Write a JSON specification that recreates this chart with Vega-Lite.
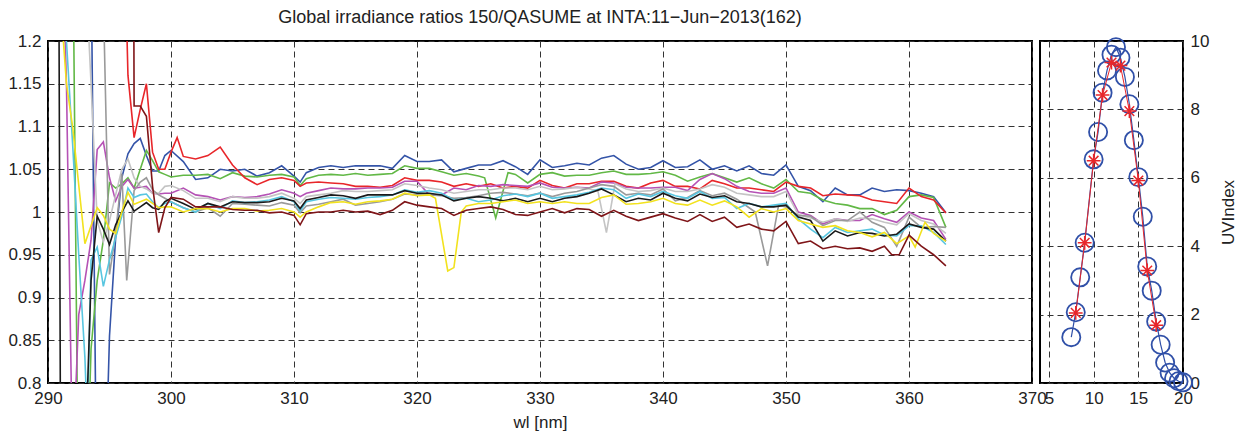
{
"$schema":"https://vega.github.io/schema/vega-lite/v6.json",
"padding":{"left":6,"top":8,"right":5,"bottom":5},
"background":"white",
"config":{
 "font":"Liberation Sans",
 "view":{"stroke":"#000","strokeWidth":2},
 "axis":{"labelFont":"Liberation Sans","labelFontSize":17,"labelColor":"#222","titleFont":"Liberation Sans","titleFontSize":17,"titleFontWeight":"normal","titleColor":"#222","domain":false,"ticks":false,"grid":true,"gridColor":"#333","gridDash":[6,4],"gridWidth":1,"gridOpacity":1,"labelPadding":7,"labelFlush":false},
 "title":{"font":"Liberation Sans","fontSize":18,"fontWeight":"normal","color":"#222"}
},
"datasets":{
"ratio":[
{"s":"b","w":290,"v":1.4},{"s":"b","w":293.5,"v":1.3},{"s":"b","w":294,"v":0.6},{"s":"b","w":294.5,"v":0.6},{"s":"b","w":295,"v":0.855},{"s":"b","w":295.5,"v":0.97},{"s":"b","w":296,"v":1.04},{"s":"b","w":296.5,"v":1.068},{"s":"b","w":297,"v":1.08},{"s":"b","w":297.5,"v":1.086},{"s":"b","w":298,"v":1.066},{"s":"b","w":298.5,"v":1.048},{"s":"b","w":299,"v":1.048},{"s":"b","w":299.5,"v":1.066},{"s":"b","w":300,"v":1.072},{"s":"b","w":301,"v":1.059},{"s":"b","w":302,"v":1.038},{"s":"b","w":303,"v":1.04},{"s":"b","w":304,"v":1.05},{"s":"b","w":305,"v":1.048},{"s":"b","w":306,"v":1.05},{"s":"b","w":307,"v":1.042},{"s":"b","w":308,"v":1.046},{"s":"b","w":309,"v":1.054},{"s":"b","w":310,"v":1.042},{"s":"b","w":310.5,"v":1.035},{"s":"b","w":311,"v":1.046},{"s":"b","w":312,"v":1.052},{"s":"b","w":313,"v":1.054},{"s":"b","w":314,"v":1.052},{"s":"b","w":315,"v":1.054},{"s":"b","w":316,"v":1.054},{"s":"b","w":317,"v":1.054},{"s":"b","w":318,"v":1.051},{"s":"b","w":319,"v":1.066},{"s":"b","w":320,"v":1.059},{"s":"b","w":321,"v":1.059},{"s":"b","w":322,"v":1.061},{"s":"b","w":323,"v":1.047},{"s":"b","w":324,"v":1.051},{"s":"b","w":325,"v":1.055},{"s":"b","w":326,"v":1.055},{"s":"b","w":327,"v":1.06},{"s":"b","w":328,"v":1.053},{"s":"b","w":329,"v":1.044},{"s":"b","w":330,"v":1.061},{"s":"b","w":331,"v":1.052},{"s":"b","w":332,"v":1.054},{"s":"b","w":333,"v":1.057},{"s":"b","w":334,"v":1.055},{"s":"b","w":335,"v":1.063},{"s":"b","w":336,"v":1.066},{"s":"b","w":337,"v":1.056},{"s":"b","w":338,"v":1.05},{"s":"b","w":339,"v":1.052},{"s":"b","w":340,"v":1.06},{"s":"b","w":341,"v":1.052},{"s":"b","w":342,"v":1.053},{"s":"b","w":343,"v":1.061},{"s":"b","w":344,"v":1.05},{"s":"b","w":345,"v":1.054},{"s":"b","w":346,"v":1.048},{"s":"b","w":347,"v":1.054},{"s":"b","w":348,"v":1.045},{"s":"b","w":349,"v":1.043},{"s":"b","w":350,"v":1.055},{"s":"b","w":351,"v":1.03},{"s":"b","w":352,"v":1.025},{"s":"b","w":353,"v":1.012},{"s":"b","w":354,"v":1.028},{"s":"b","w":355,"v":1.02},{"s":"b","w":356,"v":1.02},{"s":"b","w":357,"v":1.028},{"s":"b","w":358,"v":1.024},{"s":"b","w":359,"v":1.026},{"s":"b","w":360,"v":1.025},{"s":"b","w":361,"v":1.022},{"s":"b","w":362,"v":1.018},{"s":"b","w":363,"v":0.999},
{"s":"g","w":290,"v":1.5},{"s":"g","w":292,"v":1.35},{"s":"g","w":292.5,"v":0.6},{"s":"g","w":293,"v":0.6},{"s":"g","w":293.5,"v":0.84},{"s":"g","w":294,"v":0.92},{"s":"g","w":294.5,"v":0.967},{"s":"g","w":295,"v":1.034},{"s":"g","w":295.5,"v":1.028},{"s":"g","w":296,"v":1.033},{"s":"g","w":296.5,"v":1.04},{"s":"g","w":297,"v":1.028},{"s":"g","w":297.5,"v":1.05},{"s":"g","w":298,"v":1.072},{"s":"g","w":298.5,"v":1.06},{"s":"g","w":299,"v":1.047},{"s":"g","w":299.5,"v":1.044},{"s":"g","w":300,"v":1.041},{"s":"g","w":301,"v":1.043},{"s":"g","w":302,"v":1.043},{"s":"g","w":303,"v":1.044},{"s":"g","w":304,"v":1.039},{"s":"g","w":305,"v":1.046},{"s":"g","w":306,"v":1.042},{"s":"g","w":307,"v":1.041},{"s":"g","w":308,"v":1.043},{"s":"g","w":309,"v":1.044},{"s":"g","w":310,"v":1.041},{"s":"g","w":310.5,"v":1.031},{"s":"g","w":311,"v":1.039},{"s":"g","w":312,"v":1.043},{"s":"g","w":313,"v":1.044},{"s":"g","w":314,"v":1.043},{"s":"g","w":315,"v":1.045},{"s":"g","w":316,"v":1.043},{"s":"g","w":317,"v":1.044},{"s":"g","w":318,"v":1.045},{"s":"g","w":319,"v":1.054},{"s":"g","w":320,"v":1.051},{"s":"g","w":321,"v":1.051},{"s":"g","w":322,"v":1.047},{"s":"g","w":323,"v":1.043},{"s":"g","w":324,"v":1.045},{"s":"g","w":325,"v":1.042},{"s":"g","w":325.5,"v":1.04},{"s":"g","w":326.4,"v":0.993},{"s":"g","w":327.4,"v":1.046},{"s":"g","w":328,"v":1.044},{"s":"g","w":329,"v":1.034},{"s":"g","w":330,"v":1.044},{"s":"g","w":331,"v":1.046},{"s":"g","w":332,"v":1.042},{"s":"g","w":333,"v":1.043},{"s":"g","w":334,"v":1.043},{"s":"g","w":335,"v":1.046},{"s":"g","w":336,"v":1.048},{"s":"g","w":337,"v":1.044},{"s":"g","w":338,"v":1.044},{"s":"g","w":339,"v":1.045},{"s":"g","w":340,"v":1.047},{"s":"g","w":341,"v":1.043},{"s":"g","w":342,"v":1.036},{"s":"g","w":343,"v":1.041},{"s":"g","w":344,"v":1.045},{"s":"g","w":345,"v":1.04},{"s":"g","w":346,"v":1.035},{"s":"g","w":347,"v":1.04},{"s":"g","w":348,"v":1.033},{"s":"g","w":349,"v":1.028},{"s":"g","w":350,"v":1.038},{"s":"g","w":351,"v":1.024},{"s":"g","w":352,"v":1.022},{"s":"g","w":353,"v":1.014},{"s":"g","w":354,"v":1.01},{"s":"g","w":355,"v":1.008},{"s":"g","w":356,"v":1.004},{"s":"g","w":357,"v":1.004},{"s":"g","w":358,"v":0.997},{"s":"g","w":359,"v":1.002},{"s":"g","w":360,"v":1.018},{"s":"g","w":361,"v":1.02},{"s":"g","w":362,"v":1.017},{"s":"g","w":363,"v":0.982},
{"s":"r","w":290,"v":1.6},{"s":"r","w":296,"v":1.45},{"s":"r","w":296.5,"v":1.16},{"s":"r","w":297,"v":1.087},{"s":"r","w":297.5,"v":1.12},{"s":"r","w":298,"v":1.15},{"s":"r","w":298.5,"v":1.07},{"s":"r","w":299,"v":1.05},{"s":"r","w":299.5,"v":1.05},{"s":"r","w":300,"v":1.07},{"s":"r","w":300.5,"v":1.087},{"s":"r","w":301,"v":1.065},{"s":"r","w":302,"v":1.062},{"s":"r","w":303,"v":1.066},{"s":"r","w":304,"v":1.076},{"s":"r","w":305,"v":1.055},{"s":"r","w":306,"v":1.04},{"s":"r","w":307,"v":1.032},{"s":"r","w":308,"v":1.038},{"s":"r","w":309,"v":1.04},{"s":"r","w":310,"v":1.037},{"s":"r","w":310.5,"v":1.03},{"s":"r","w":311,"v":1.034},{"s":"r","w":312,"v":1.035},{"s":"r","w":313,"v":1.034},{"s":"r","w":314,"v":1.033},{"s":"r","w":315,"v":1.03},{"s":"r","w":316,"v":1.03},{"s":"r","w":317,"v":1.029},{"s":"r","w":318,"v":1.031},{"s":"r","w":319,"v":1.04},{"s":"r","w":320,"v":1.037},{"s":"r","w":321,"v":1.037},{"s":"r","w":322,"v":1.035},{"s":"r","w":323,"v":1.03},{"s":"r","w":324,"v":1.033},{"s":"r","w":325,"v":1.03},{"s":"r","w":326,"v":1.033},{"s":"r","w":327,"v":1.028},{"s":"r","w":328,"v":1.03},{"s":"r","w":329,"v":1.028},{"s":"r","w":330,"v":1.037},{"s":"r","w":331,"v":1.031},{"s":"r","w":332,"v":1.028},{"s":"r","w":333,"v":1.033},{"s":"r","w":334,"v":1.033},{"s":"r","w":335,"v":1.036},{"s":"r","w":336,"v":1.036},{"s":"r","w":337,"v":1.03},{"s":"r","w":338,"v":1.028},{"s":"r","w":339,"v":1.034},{"s":"r","w":340,"v":1.037},{"s":"r","w":341,"v":1.03},{"s":"r","w":342,"v":1.03},{"s":"r","w":343,"v":1.027},{"s":"r","w":344,"v":1.037},{"s":"r","w":345,"v":1.033},{"s":"r","w":346,"v":1.028},{"s":"r","w":347,"v":1.028},{"s":"r","w":348,"v":1.026},{"s":"r","w":349,"v":1.024},{"s":"r","w":350,"v":1.035},{"s":"r","w":351,"v":1.03},{"s":"r","w":352,"v":1.028},{"s":"r","w":353,"v":1.019},{"s":"r","w":354,"v":1.021},{"s":"r","w":355,"v":1.02},{"s":"r","w":356,"v":1.019},{"s":"r","w":357,"v":1.014},{"s":"r","w":358,"v":1.012},{"s":"r","w":359,"v":1.01},{"s":"r","w":360,"v":1.028},{"s":"r","w":361,"v":1.018},{"s":"r","w":362,"v":1.014},{"s":"r","w":363,"v":0.999},
{"s":"m","w":290,"v":1.5},{"s":"m","w":291,"v":1.4},{"s":"m","w":291.5,"v":1.15},{"s":"m","w":292,"v":0.7},{"s":"m","w":292.5,"v":0.88},{"s":"m","w":293,"v":0.92},{"s":"m","w":293.5,"v":0.967},{"s":"m","w":294,"v":1.073},{"s":"m","w":294.5,"v":1.082},{"s":"m","w":295,"v":1.04},{"s":"m","w":295.5,"v":1.013},{"s":"m","w":296,"v":1.03},{"s":"m","w":296.5,"v":1.038},{"s":"m","w":297,"v":1.028},{"s":"m","w":297.5,"v":1.029},{"s":"m","w":298,"v":1.03},{"s":"m","w":298.5,"v":1.022},{"s":"m","w":299,"v":1.021},{"s":"m","w":299.5,"v":1.022},{"s":"m","w":300,"v":1.022},{"s":"m","w":301,"v":1.028},{"s":"m","w":302,"v":1.02},{"s":"m","w":303,"v":1.018},{"s":"m","w":304,"v":1.014},{"s":"m","w":305,"v":1.018},{"s":"m","w":306,"v":1.017},{"s":"m","w":307,"v":1.018},{"s":"m","w":308,"v":1.021},{"s":"m","w":309,"v":1.026},{"s":"m","w":310,"v":1.022},{"s":"m","w":310.5,"v":1.018},{"s":"m","w":311,"v":1.022},{"s":"m","w":312,"v":1.025},{"s":"m","w":313,"v":1.028},{"s":"m","w":314,"v":1.027},{"s":"m","w":315,"v":1.027},{"s":"m","w":316,"v":1.028},{"s":"m","w":317,"v":1.028},{"s":"m","w":318,"v":1.029},{"s":"m","w":319,"v":1.036},{"s":"m","w":320,"v":1.036},{"s":"m","w":321,"v":1.02},{"s":"m","w":322,"v":1.02},{"s":"m","w":323,"v":1.028},{"s":"m","w":324,"v":1.026},{"s":"m","w":325,"v":1.031},{"s":"m","w":326,"v":1.03},{"s":"m","w":327,"v":1.032},{"s":"m","w":328,"v":1.031},{"s":"m","w":329,"v":1.03},{"s":"m","w":330,"v":1.034},{"s":"m","w":331,"v":1.029},{"s":"m","w":332,"v":1.028},{"s":"m","w":333,"v":1.029},{"s":"m","w":334,"v":1.028},{"s":"m","w":335,"v":1.035},{"s":"m","w":336,"v":1.034},{"s":"m","w":337,"v":1.029},{"s":"m","w":338,"v":1.028},{"s":"m","w":339,"v":1.028},{"s":"m","w":340,"v":1.029},{"s":"m","w":341,"v":1.029},{"s":"m","w":342,"v":1.025},{"s":"m","w":343,"v":1.038},{"s":"m","w":344,"v":1.045},{"s":"m","w":345,"v":1.039},{"s":"m","w":346,"v":1.03},{"s":"m","w":347,"v":1.024},{"s":"m","w":348,"v":1.022},{"s":"m","w":349,"v":1.022},{"s":"m","w":350,"v":1.028},{"s":"m","w":351,"v":1.0},{"s":"m","w":352,"v":0.996},{"s":"m","w":353,"v":0.986},{"s":"m","w":354,"v":0.992},{"s":"m","w":355,"v":0.99},{"s":"m","w":356,"v":0.99},{"s":"m","w":357,"v":0.997},{"s":"m","w":358,"v":0.992},{"s":"m","w":359,"v":0.988},{"s":"m","w":360,"v":1.0},{"s":"m","w":361,"v":0.993},{"s":"m","w":362,"v":0.99},{"s":"m","w":363,"v":0.968},
{"s":"l","w":290,"v":1.5},{"s":"l","w":293,"v":1.3},{"s":"l","w":293.5,"v":1.15},{"s":"l","w":294,"v":0.99},{"s":"l","w":294.5,"v":0.965},{"s":"l","w":295,"v":0.99},{"s":"l","w":295.5,"v":1.02},{"s":"l","w":296,"v":1.05},{"s":"l","w":296.5,"v":1.062},{"s":"l","w":297,"v":1.04},{"s":"l","w":297.5,"v":1.03},{"s":"l","w":298,"v":1.027},{"s":"l","w":298.5,"v":1.022},{"s":"l","w":299,"v":1.022},{"s":"l","w":299.5,"v":1.03},{"s":"l","w":300,"v":1.031},{"s":"l","w":301,"v":1.025},{"s":"l","w":302,"v":1.016},{"s":"l","w":303,"v":1.016},{"s":"l","w":304,"v":1.012},{"s":"l","w":305,"v":1.018},{"s":"l","w":306,"v":1.016},{"s":"l","w":307,"v":1.016},{"s":"l","w":308,"v":1.018},{"s":"l","w":309,"v":1.022},{"s":"l","w":310,"v":1.016},{"s":"l","w":310.5,"v":1.01},{"s":"l","w":311,"v":1.018},{"s":"l","w":312,"v":1.02},{"s":"l","w":313,"v":1.022},{"s":"l","w":314,"v":1.025},{"s":"l","w":315,"v":1.024},{"s":"l","w":316,"v":1.024},{"s":"l","w":317,"v":1.025},{"s":"l","w":318,"v":1.026},{"s":"l","w":319,"v":1.033},{"s":"l","w":320,"v":1.031},{"s":"l","w":321,"v":1.028},{"s":"l","w":322,"v":1.026},{"s":"l","w":323,"v":1.022},{"s":"l","w":324,"v":1.024},{"s":"l","w":325,"v":1.026},{"s":"l","w":326,"v":1.026},{"s":"l","w":327,"v":1.028},{"s":"l","w":328,"v":1.028},{"s":"l","w":329,"v":1.026},{"s":"l","w":330,"v":1.03},{"s":"l","w":331,"v":1.026},{"s":"l","w":332,"v":1.027},{"s":"l","w":333,"v":1.029},{"s":"l","w":334,"v":1.027},{"s":"l","w":334.7,"v":1.025},{"s":"l","w":335.4,"v":0.976},{"s":"l","w":336.1,"v":1.033},{"s":"l","w":337,"v":1.027},{"s":"l","w":338,"v":1.024},{"s":"l","w":339,"v":1.025},{"s":"l","w":340,"v":1.028},{"s":"l","w":341,"v":1.024},{"s":"l","w":342,"v":1.024},{"s":"l","w":343,"v":1.027},{"s":"l","w":344,"v":1.032},{"s":"l","w":345,"v":1.029},{"s":"l","w":346,"v":1.022},{"s":"l","w":347,"v":1.02},{"s":"l","w":348,"v":1.018},{"s":"l","w":349,"v":1.018},{"s":"l","w":350,"v":1.024},{"s":"l","w":351,"v":0.997},{"s":"l","w":352,"v":0.993},{"s":"l","w":353,"v":0.988},{"s":"l","w":354,"v":0.992},{"s":"l","w":355,"v":0.989},{"s":"l","w":356,"v":0.993},{"s":"l","w":357,"v":0.992},{"s":"l","w":358,"v":0.988},{"s":"l","w":359,"v":0.985},{"s":"l","w":360,"v":0.998},{"s":"l","w":361,"v":0.99},{"s":"l","w":362,"v":0.986},{"s":"l","w":363,"v":0.975},
{"s":"a","w":290,"v":1.5},{"s":"a","w":294,"v":1.4},{"s":"a","w":294.5,"v":1.25},{"s":"a","w":295,"v":0.927},{"s":"a","w":295.5,"v":0.975},{"s":"a","w":296,"v":1.045},{"s":"a","w":296.4,"v":0.92},{"s":"a","w":297,"v":1.025},{"s":"a","w":297.5,"v":1.035},{"s":"a","w":298,"v":1.04},{"s":"a","w":298.5,"v":1.026},{"s":"a","w":299,"v":1.02},{"s":"a","w":299.5,"v":1.016},{"s":"a","w":300,"v":1.012},{"s":"a","w":301,"v":1.005},{"s":"a","w":302,"v":1.0},{"s":"a","w":303,"v":1.005},{"s":"a","w":304,"v":0.995},{"s":"a","w":305,"v":1.01},{"s":"a","w":306,"v":1.009},{"s":"a","w":307,"v":1.008},{"s":"a","w":308,"v":1.007},{"s":"a","w":309,"v":1.011},{"s":"a","w":310,"v":1.008},{"s":"a","w":310.5,"v":0.999},{"s":"a","w":311,"v":1.007},{"s":"a","w":312,"v":1.009},{"s":"a","w":313,"v":1.012},{"s":"a","w":314,"v":1.015},{"s":"a","w":315,"v":1.008},{"s":"a","w":316,"v":1.01},{"s":"a","w":317,"v":1.012},{"s":"a","w":318,"v":1.015},{"s":"a","w":319,"v":1.021},{"s":"a","w":320,"v":1.02},{"s":"a","w":321,"v":1.02},{"s":"a","w":322,"v":1.019},{"s":"a","w":323,"v":1.016},{"s":"a","w":324,"v":1.017},{"s":"a","w":325,"v":1.019},{"s":"a","w":326,"v":1.022},{"s":"a","w":327,"v":1.023},{"s":"a","w":328,"v":1.021},{"s":"a","w":329,"v":1.019},{"s":"a","w":330,"v":1.022},{"s":"a","w":331,"v":1.018},{"s":"a","w":332,"v":1.022},{"s":"a","w":333,"v":1.024},{"s":"a","w":334,"v":1.028},{"s":"a","w":335,"v":1.032},{"s":"a","w":336,"v":1.03},{"s":"a","w":337,"v":1.02},{"s":"a","w":338,"v":1.022},{"s":"a","w":339,"v":1.02},{"s":"a","w":340,"v":1.027},{"s":"a","w":341,"v":1.013},{"s":"a","w":342,"v":1.017},{"s":"a","w":343,"v":1.025},{"s":"a","w":344,"v":1.019},{"s":"a","w":345,"v":1.022},{"s":"a","w":346,"v":1.015},{"s":"a","w":347,"v":1.005},{"s":"a","w":347.5,"v":1.0},{"s":"a","w":348.5,"v":0.937},{"s":"a","w":349.4,"v":1.008},{"s":"a","w":350,"v":1.006},{"s":"a","w":351,"v":0.996},{"s":"a","w":352,"v":0.995},{"s":"a","w":353,"v":0.984},{"s":"a","w":354,"v":0.99},{"s":"a","w":355,"v":0.99},{"s":"a","w":356,"v":1.0},{"s":"a","w":357,"v":0.988},{"s":"a","w":358,"v":0.982},{"s":"a","w":359,"v":0.96},{"s":"a","w":360,"v":0.994},{"s":"a","w":361,"v":0.982},{"s":"a","w":362,"v":0.983},{"s":"a","w":363,"v":0.982},
{"s":"c","w":290,"v":1.5},{"s":"c","w":291,"v":1.4},{"s":"c","w":291.5,"v":1.2},{"s":"c","w":292,"v":1.08},{"s":"c","w":292.5,"v":0.95},{"s":"c","w":293,"v":0.83},{"s":"c","w":293.2,"v":0.75},{"s":"c","w":293.5,"v":0.944},{"s":"c","w":294,"v":0.959},{"s":"c","w":294.5,"v":0.913},{"s":"c","w":295,"v":0.944},{"s":"c","w":295.5,"v":0.97},{"s":"c","w":296,"v":0.995},{"s":"c","w":296.5,"v":1.028},{"s":"c","w":297,"v":1.017},{"s":"c","w":297.5,"v":1.02},{"s":"c","w":298,"v":1.021},{"s":"c","w":298.5,"v":1.012},{"s":"c","w":299,"v":1.005},{"s":"c","w":299.5,"v":1.01},{"s":"c","w":300,"v":1.012},{"s":"c","w":301,"v":1.005},{"s":"c","w":302,"v":1.0},{"s":"c","w":303,"v":1.01},{"s":"c","w":304,"v":1.004},{"s":"c","w":305,"v":1.013},{"s":"c","w":306,"v":1.011},{"s":"c","w":307,"v":1.012},{"s":"c","w":308,"v":1.014},{"s":"c","w":309,"v":1.018},{"s":"c","w":310,"v":1.012},{"s":"c","w":310.5,"v":1.001},{"s":"c","w":311,"v":1.012},{"s":"c","w":312,"v":1.015},{"s":"c","w":313,"v":1.017},{"s":"c","w":314,"v":1.016},{"s":"c","w":315,"v":1.015},{"s":"c","w":316,"v":1.017},{"s":"c","w":317,"v":1.018},{"s":"c","w":318,"v":1.02},{"s":"c","w":319,"v":1.026},{"s":"c","w":320,"v":1.023},{"s":"c","w":321,"v":1.025},{"s":"c","w":322,"v":1.022},{"s":"c","w":323,"v":1.014},{"s":"c","w":324,"v":1.016},{"s":"c","w":325,"v":1.012},{"s":"c","w":326,"v":1.014},{"s":"c","w":327,"v":1.019},{"s":"c","w":328,"v":1.021},{"s":"c","w":329,"v":1.018},{"s":"c","w":330,"v":1.022},{"s":"c","w":331,"v":1.016},{"s":"c","w":332,"v":1.018},{"s":"c","w":333,"v":1.02},{"s":"c","w":334,"v":1.023},{"s":"c","w":335,"v":1.028},{"s":"c","w":336,"v":1.026},{"s":"c","w":337,"v":1.016},{"s":"c","w":338,"v":1.021},{"s":"c","w":339,"v":1.018},{"s":"c","w":340,"v":1.024},{"s":"c","w":341,"v":1.019},{"s":"c","w":342,"v":1.016},{"s":"c","w":343,"v":1.024},{"s":"c","w":344,"v":1.016},{"s":"c","w":345,"v":1.017},{"s":"c","w":346,"v":1.004},{"s":"c","w":347,"v":1.01},{"s":"c","w":348,"v":1.006},{"s":"c","w":349,"v":1.008},{"s":"c","w":350,"v":1.01},{"s":"c","w":351,"v":0.992},{"s":"c","w":352,"v":0.98},{"s":"c","w":353,"v":0.97},{"s":"c","w":354,"v":0.982},{"s":"c","w":355,"v":0.976},{"s":"c","w":356,"v":0.978},{"s":"c","w":357,"v":0.98},{"s":"c","w":358,"v":0.973},{"s":"c","w":359,"v":0.972},{"s":"c","w":360,"v":0.984},{"s":"c","w":361,"v":0.984},{"s":"c","w":362,"v":0.976},{"s":"c","w":363,"v":0.962},
{"s":"k","w":290,"v":1.6},{"s":"k","w":290.8,"v":1.6},{"s":"k","w":291.1,"v":0.4},{"s":"k","w":292,"v":0.6},{"s":"k","w":293,"v":0.7},{"s":"k","w":293.5,"v":0.92},{"s":"k","w":294,"v":0.995},{"s":"k","w":294.5,"v":0.98},{"s":"k","w":295,"v":0.962},{"s":"k","w":295.5,"v":0.985},{"s":"k","w":296,"v":1.0},{"s":"k","w":296.5,"v":1.013},{"s":"k","w":297,"v":1.001},{"s":"k","w":297.5,"v":1.006},{"s":"k","w":298,"v":1.011},{"s":"k","w":298.5,"v":1.005},{"s":"k","w":299,"v":1.003},{"s":"k","w":299.5,"v":1.012},{"s":"k","w":300,"v":1.016},{"s":"k","w":301,"v":1.01},{"s":"k","w":302,"v":1.003},{"s":"k","w":303,"v":1.01},{"s":"k","w":304,"v":1.006},{"s":"k","w":305,"v":1.012},{"s":"k","w":306,"v":1.011},{"s":"k","w":307,"v":1.011},{"s":"k","w":308,"v":1.012},{"s":"k","w":309,"v":1.016},{"s":"k","w":310,"v":1.013},{"s":"k","w":310.5,"v":1.004},{"s":"k","w":311,"v":1.014},{"s":"k","w":312,"v":1.017},{"s":"k","w":313,"v":1.02},{"s":"k","w":314,"v":1.019},{"s":"k","w":315,"v":1.016},{"s":"k","w":316,"v":1.02},{"s":"k","w":317,"v":1.02},{"s":"k","w":318,"v":1.02},{"s":"k","w":319,"v":1.025},{"s":"k","w":320,"v":1.022},{"s":"k","w":321,"v":1.022},{"s":"k","w":322,"v":1.02},{"s":"k","w":323,"v":1.013},{"s":"k","w":324,"v":1.016},{"s":"k","w":325,"v":1.018},{"s":"k","w":326,"v":1.016},{"s":"k","w":327,"v":1.013},{"s":"k","w":328,"v":1.016},{"s":"k","w":329,"v":1.012},{"s":"k","w":330,"v":1.016},{"s":"k","w":331,"v":1.012},{"s":"k","w":332,"v":1.016},{"s":"k","w":333,"v":1.018},{"s":"k","w":334,"v":1.022},{"s":"k","w":335,"v":1.027},{"s":"k","w":336,"v":1.02},{"s":"k","w":337,"v":1.012},{"s":"k","w":338,"v":1.016},{"s":"k","w":339,"v":1.014},{"s":"k","w":340,"v":1.022},{"s":"k","w":341,"v":1.016},{"s":"k","w":342,"v":1.013},{"s":"k","w":343,"v":1.021},{"s":"k","w":344,"v":1.017},{"s":"k","w":345,"v":1.019},{"s":"k","w":346,"v":1.012},{"s":"k","w":347,"v":1.01},{"s":"k","w":348,"v":1.006},{"s":"k","w":349,"v":1.006},{"s":"k","w":350,"v":1.008},{"s":"k","w":351,"v":0.994},{"s":"k","w":352,"v":0.99},{"s":"k","w":353,"v":0.966},{"s":"k","w":354,"v":0.978},{"s":"k","w":355,"v":0.972},{"s":"k","w":356,"v":0.976},{"s":"k","w":357,"v":0.975},{"s":"k","w":358,"v":0.972},{"s":"k","w":359,"v":0.974},{"s":"k","w":360,"v":0.986},{"s":"k","w":361,"v":0.982},{"s":"k","w":362,"v":0.98},{"s":"k","w":363,"v":0.966},
{"s":"y","w":290,"v":1.4},{"s":"y","w":291,"v":1.25},{"s":"y","w":291.5,"v":1.15},{"s":"y","w":292,"v":1.1},{"s":"y","w":293,"v":0.963},{"s":"y","w":294,"v":1.005},{"s":"y","w":294.5,"v":0.996},{"s":"y","w":295,"v":0.98},{"s":"y","w":295.5,"v":0.975},{"s":"y","w":296,"v":1.0},{"s":"y","w":296.5,"v":1.023},{"s":"y","w":297,"v":1.009},{"s":"y","w":297.5,"v":1.012},{"s":"y","w":298,"v":1.015},{"s":"y","w":298.5,"v":1.01},{"s":"y","w":299,"v":1.005},{"s":"y","w":299.5,"v":1.006},{"s":"y","w":300,"v":1.006},{"s":"y","w":301,"v":1.0},{"s":"y","w":302,"v":1.004},{"s":"y","w":303,"v":1.004},{"s":"y","w":304,"v":1.0},{"s":"y","w":305,"v":1.004},{"s":"y","w":306,"v":1.004},{"s":"y","w":307,"v":1.001},{"s":"y","w":308,"v":1.002},{"s":"y","w":309,"v":1.004},{"s":"y","w":310,"v":1.0},{"s":"y","w":310.5,"v":0.994},{"s":"y","w":311,"v":1.0},{"s":"y","w":312,"v":1.006},{"s":"y","w":313,"v":1.011},{"s":"y","w":314,"v":1.012},{"s":"y","w":315,"v":1.009},{"s":"y","w":316,"v":1.012},{"s":"y","w":317,"v":1.013},{"s":"y","w":318,"v":1.015},{"s":"y","w":319,"v":1.022},{"s":"y","w":320,"v":1.019},{"s":"y","w":321,"v":1.02},{"s":"y","w":321.5,"v":1.016},{"s":"y","w":322.5,"v":0.931},{"s":"y","w":323,"v":0.935},{"s":"y","w":323.6,"v":1.0},{"s":"y","w":324,"v":1.007},{"s":"y","w":325,"v":1.01},{"s":"y","w":326,"v":1.01},{"s":"y","w":327,"v":1.012},{"s":"y","w":328,"v":1.014},{"s":"y","w":329,"v":1.01},{"s":"y","w":330,"v":1.012},{"s":"y","w":331,"v":1.01},{"s":"y","w":332,"v":1.012},{"s":"y","w":333,"v":1.01},{"s":"y","w":334,"v":1.01},{"s":"y","w":335,"v":1.017},{"s":"y","w":336,"v":1.02},{"s":"y","w":337,"v":1.009},{"s":"y","w":338,"v":1.01},{"s":"y","w":339,"v":1.012},{"s":"y","w":340,"v":1.016},{"s":"y","w":341,"v":1.01},{"s":"y","w":342,"v":1.008},{"s":"y","w":343,"v":1.014},{"s":"y","w":344,"v":1.008},{"s":"y","w":345,"v":1.013},{"s":"y","w":346,"v":1.006},{"s":"y","w":347,"v":0.994},{"s":"y","w":348,"v":1.004},{"s":"y","w":349,"v":1.0},{"s":"y","w":350,"v":1.004},{"s":"y","w":351,"v":0.99},{"s":"y","w":352,"v":0.986},{"s":"y","w":353,"v":0.982},{"s":"y","w":354,"v":0.984},{"s":"y","w":355,"v":0.978},{"s":"y","w":356,"v":0.976},{"s":"y","w":357,"v":0.971},{"s":"y","w":358,"v":0.976},{"s":"y","w":359,"v":0.963},{"s":"y","w":360,"v":0.972},{"s":"y","w":360.5,"v":0.959},{"s":"y","w":361.3,"v":0.988},{"s":"y","w":362,"v":0.975},{"s":"y","w":363,"v":0.966},
{"s":"d","w":290,"v":1.6},{"s":"d","w":296.9,"v":1.6},{"s":"d","w":297,"v":1.124},{"s":"d","w":297.5,"v":1.124},{"s":"d","w":298,"v":1.112},{"s":"d","w":298.5,"v":1.03},{"s":"d","w":299,"v":0.976},{"s":"d","w":299.5,"v":1.005},{"s":"d","w":300,"v":1.017},{"s":"d","w":301,"v":1.015},{"s":"d","w":302,"v":1.006},{"s":"d","w":303,"v":1.006},{"s":"d","w":304,"v":1.006},{"s":"d","w":305,"v":1.003},{"s":"d","w":306,"v":1.002},{"s":"d","w":307,"v":1.002},{"s":"d","w":308,"v":0.999},{"s":"d","w":309,"v":1.0},{"s":"d","w":310,"v":0.996},{"s":"d","w":310.5,"v":0.985},{"s":"d","w":311,"v":0.998},{"s":"d","w":312,"v":1.0},{"s":"d","w":313,"v":1.0},{"s":"d","w":314,"v":1.002},{"s":"d","w":315,"v":1.0},{"s":"d","w":316,"v":1.001},{"s":"d","w":317,"v":0.997},{"s":"d","w":318,"v":1.002},{"s":"d","w":319,"v":1.012},{"s":"d","w":320,"v":1.008},{"s":"d","w":321,"v":1.006},{"s":"d","w":322,"v":1.004},{"s":"d","w":323,"v":0.996},{"s":"d","w":324,"v":1.002},{"s":"d","w":325,"v":1.004},{"s":"d","w":326,"v":1.006},{"s":"d","w":327,"v":1.003},{"s":"d","w":328,"v":0.997},{"s":"d","w":329,"v":0.996},{"s":"d","w":330,"v":1.0},{"s":"d","w":331,"v":1.004},{"s":"d","w":332,"v":0.999},{"s":"d","w":333,"v":1.004},{"s":"d","w":334,"v":1.003},{"s":"d","w":335,"v":0.995},{"s":"d","w":336,"v":1.002},{"s":"d","w":337,"v":0.995},{"s":"d","w":338,"v":0.99},{"s":"d","w":339,"v":0.994},{"s":"d","w":340,"v":0.998},{"s":"d","w":341,"v":0.993},{"s":"d","w":342,"v":0.989},{"s":"d","w":343,"v":0.997},{"s":"d","w":344,"v":0.989},{"s":"d","w":345,"v":0.994},{"s":"d","w":346,"v":0.982},{"s":"d","w":347,"v":0.986},{"s":"d","w":348,"v":0.98},{"s":"d","w":349,"v":0.978},{"s":"d","w":350,"v":0.989},{"s":"d","w":351,"v":0.963},{"s":"d","w":352,"v":0.966},{"s":"d","w":353,"v":0.957},{"s":"d","w":354,"v":0.96},{"s":"d","w":355,"v":0.957},{"s":"d","w":356,"v":0.958},{"s":"d","w":357,"v":0.954},{"s":"d","w":358,"v":0.96},{"s":"d","w":358.6,"v":0.95},{"s":"d","w":359.2,"v":0.95},{"s":"d","w":360,"v":0.973},{"s":"d","w":361,"v":0.96},{"s":"d","w":362,"v":0.95},{"s":"d","w":363,"v":0.937}
],
"uv":[
{"h":7.5,"u":1.34},{"h":8,"u":2.07},{"h":8.5,"u":3.09},{"h":9,"u":4.1},{"h":10,"u":6.54},{"h":10.5,"u":7.34},{"h":11,"u":8.49},{"h":11.5,"u":9.14},{"h":12,"u":9.6},{"h":12.5,"u":9.82},{"h":13,"u":9.51},{"h":13.5,"u":8.95},{"h":14,"u":8.15},{"h":14.5,"u":7.1},{"h":15,"u":6.02},{"h":15.5,"u":4.86},{"h":16,"u":3.41},{"h":16.5,"u":2.7},{"h":17,"u":1.8},{"h":17.5,"u":1.12},{"h":18,"u":0.6},{"h":18.5,"u":0.3},{"h":19,"u":0.14},{"h":19.5,"u":0.05},{"h":20,"u":0.02}
],
"ast":[
{"h":8,"u":2.05},{"h":9,"u":4.1},{"h":10,"u":6.5},{"h":11,"u":8.42},{"h":12,"u":9.37},{"h":13,"u":9.28},{"h":14,"u":7.95},{"h":15,"u":5.92},{"h":16,"u":3.29},{"h":17,"u":1.69}
]
},
"hconcat":[
{
 "width":984,"height":342,
 "title":{"text":"Global irradiance ratios 150/QASUME at INTA:11−Jun−2013(162)","offset":5},
 "data":{"name":"ratio"},
 "mark":{"type":"line","clip":true,"strokeWidth":1.6},
 "encoding":{
  "x":{"field":"w","type":"quantitative","scale":{"domain":[290,370],"nice":false,"zero":false},"axis":{"values":[290,300,310,320,330,340,350,360,370],"title":"wl [nm]","titlePadding":8}},
  "y":{"field":"v","type":"quantitative","scale":{"domain":[0.8,1.2],"nice":false,"zero":false},"axis":{"values":[0.8,0.85,0.9,0.95,1,1.05,1.1,1.15,1.2],"format":".2~f","title":null}},
  "color":{"field":"s","type":"nominal","scale":{"domain":["b","g","r","m","l","a","c","k","y","d"],"range":["#3454a8","#62b846","#e8262a","#b552b5","#c4c4c4","#9a9a9a","#58c6e0","#1a1a1a","#f2e21e","#7f1518"]},"legend":null}
 }
},
{
 "width":143,"height":342,
 "encoding":{
  "x":{"field":"h","type":"quantitative","scale":{"domain":[4,20],"nice":false,"zero":false},"axis":{"values":[5,10,15,20],"title":null}},
  "y":{"field":"u","type":"quantitative","scale":{"domain":[0,10],"nice":false},"axis":{"orient":"right","values":[0,2,4,6,8,10],"title":"UVIndex","titleAngle":270,"titleBaseline":"top","titlePadding":12}}
 },
 "layer":[
  {"data":{"name":"uv"},"mark":{"type":"line","color":"#3050a8","strokeWidth":1.2}},
  {"data":{"name":"uv"},"mark":{"type":"point","shape":"circle","filled":false,"color":"#3050a8","size":330,"strokeWidth":1.8,"opacity":1}},
  {"data":{"name":"ast"},"mark":{"type":"line","color":"#e8262a","strokeWidth":1}},
  {"data":{"name":"ast"},"mark":{"type":"point","shape":"M-1,0L1,0M0,-1L0,1M-0.7,-0.7L0.7,0.7M-0.7,0.7L0.7,-0.7","filled":false,"color":"#e8262a","size":190,"strokeWidth":1.5,"opacity":1}}
 ]
}
],
"spacing":8,
"bounds":"flush"
}
